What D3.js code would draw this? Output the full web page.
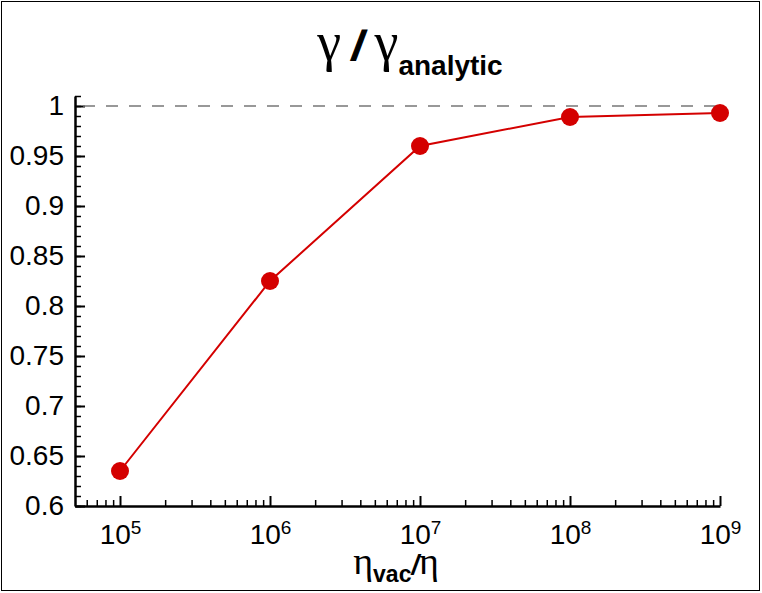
<!DOCTYPE html>
<html>
<head>
<meta charset="utf-8">
<script src="https://cdn.jsdelivr.net/npm/d3@7"></script>
<style>
  body { margin: 0; background: #fff; }
  text { font-family: "Liberation Sans", Arial, sans-serif; }
</style>
</head>
<body>
<div id="chart"></div>
<script>
// data
var ratios = [1e5, 1e6, 1e7, 1e8, 1e9];
var gammaRatio = [0.635, 0.825, 0.96, 0.989, 0.993];
var yMajorTicks = [0.6, 0.65, 0.7, 0.75, 0.8, 0.85, 0.9, 0.95, 1];
var xExponents = [5, 6, 7, 8, 9];

var width = 762, height = 593;
var margin = {top: 96, right: 42, bottom: 87, left: 75};

var svg = d3.select("#chart")
    .append("svg")
    .attr("width", width)
    .attr("height", height);

// frame
svg.append("rect")
    .attr("x", 1.5).attr("y", 1.5)
    .attr("width", width - 4).attr("height", height - 4)
    .attr("fill", "none")
    .attr("stroke", "#000")
    .attr("stroke-width", 1);

var x = d3.scaleLog()
    .domain([Math.pow(10, 4.7), 1e9])
    .range([margin.left, width - margin.right]);

var y = d3.scaleLinear()
    .domain([0.6, 1.01])
    .range([height - margin.bottom, margin.top]);

// minor ticks
var xMinor = [];
for (var e = 4; e <= 8; e++) {
    for (var m = 2; m <= 9; m++) {
        var v = m * Math.pow(10, e);
        if (v >= x.domain()[0] && v <= x.domain()[1]) xMinor.push(v);
    }
}
var yMinor = d3.range(60, 102).map(d => d / 100);

svg.append("g")
    .attr("class", "minor")
    .attr("transform", "translate(0," + y(0.6) + ")")
    .call(d3.axisBottom(x).tickValues(xMinor).tickFormat("").tickSizeInner(-6).tickSizeOuter(0));

svg.append("g")
    .attr("class", "minor")
    .attr("transform", "translate(" + margin.left + ",0)")
    .call(d3.axisLeft(y).tickValues(yMinor).tickFormat("").tickSizeInner(-6).tickSizeOuter(0));

svg.selectAll(".minor line").attr("stroke-width", 1.5);
svg.selectAll(".minor path").remove();

// x axis
var xAxis = svg.append("g")
    .attr("transform", "translate(0," + y(0.6) + ")")
    .call(d3.axisBottom(x)
        .tickValues(xExponents.map(d => Math.pow(10, d)))
        .tickFormat("")
        .tickSizeInner(-10)
        .tickSizeOuter(0)
        .tickPadding(18));

xAxis.selectAll(".tick text")
    .each(function (d, i) {
        var t = d3.select(this);
        t.append("tspan").text("10");
        t.append("tspan")
            .attr("dy", "-10")
            .attr("font-size", "19px")
            .text(xExponents[i]);
    });

// y axis
var yAxis = svg.append("g")
    .attr("transform", "translate(" + margin.left + ",0)")
    .call(d3.axisLeft(y)
        .tickValues(yMajorTicks)
        .tickFormat(d3.format("~g"))
        .tickSizeInner(-10)
        .tickSizeOuter(0)
        .tickPadding(11));

[xAxis, yAxis].forEach(function (a) {
    a.selectAll("text").attr("font-size", "28px").attr("fill", "#000")
        .attr("font-family", "'Liberation Sans', Arial, sans-serif");
    a.selectAll("line").attr("stroke-width", 2);
    a.select("path").attr("stroke-width", 2.5);
});

// reference line at 1
svg.append("line")
    .attr("x1", x.range()[0] + 8).attr("x2", x.range()[1])
    .attr("y1", y(1)).attr("y2", y(1))
    .attr("stroke", "#777")
    .attr("stroke-width", 1.5)
    .attr("stroke-dasharray", "12,11");

// data line
var line = d3.line()
    .x((d, i) => x(ratios[i]))
    .y(d => y(d));

svg.append("path")
    .datum(gammaRatio)
    .attr("d", line)
    .attr("fill", "none")
    .attr("stroke", "#d40000")
    .attr("stroke-width", 2);

svg.selectAll(".pt")
    .data(gammaRatio)
    .enter()
    .append("circle")
    .attr("class", "pt")
    .attr("cx", (d, i) => x(ratios[i]))
    .attr("cy", d => y(d))
    .attr("r", 9)
    .attr("fill", "#d40000");

// title
var title = svg.append("text")
    .attr("x", 410)
    .attr("y", 60)
    .attr("text-anchor", "middle");
title.append("tspan")
    .attr("font-family", "'Liberation Serif', 'Times New Roman', serif")
    .attr("font-size", "54px")
    .text("γ");
title.append("tspan")
    .attr("font-family", "'Liberation Sans', Arial, sans-serif")
    .attr("font-weight", "900")
    .attr("font-style", "italic")
    .attr("font-size", "40px")
    .attr("stroke", "#000")
    .attr("stroke-width", 1.2)
    .text(" / ");
title.append("tspan")
    .attr("font-family", "'Liberation Serif', 'Times New Roman', serif")
    .attr("font-size", "54px")
    .text("γ");
title.append("tspan")
    .attr("font-family", "'Liberation Sans', Arial, sans-serif")
    .attr("font-weight", "bold")
    .attr("font-size", "28px")
    .attr("dy", "15")
    .text("analytic");

// x label
var xlabel = svg.append("text")
    .attr("x", 396)
    .attr("y", 574)
    .attr("text-anchor", "middle");
xlabel.append("tspan")
    .attr("font-family", "'Liberation Serif', 'Times New Roman', serif")
    .attr("font-size", "38px")
    .text("η");
xlabel.append("tspan")
    .attr("font-family", "'Liberation Sans', Arial, sans-serif")
    .attr("font-weight", "bold")
    .attr("font-size", "23px")
    .attr("dy", "8")
    .text("vac");
xlabel.append("tspan")
    .attr("font-family", "'Liberation Sans', Arial, sans-serif")
    .attr("font-weight", "bold")
    .attr("font-style", "italic")
    .attr("font-size", "27px")
    .attr("dy", "-8")
    .text("/");
xlabel.append("tspan")
    .attr("font-family", "'Liberation Serif', 'Times New Roman', serif")
    .attr("font-size", "38px")
    .text("η");
</script>
</body>
</html>
